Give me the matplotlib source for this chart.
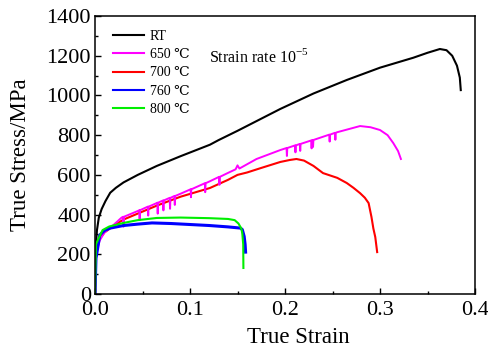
import matplotlib
matplotlib.use("Agg")
import matplotlib.pyplot as plt
import numpy as np
from matplotlib.ticker import MultipleLocator, FormatStrFormatter

# ---- data ----
rt_x = [0, 0.0005, 0.001, 0.002, 0.004, 0.007, 0.011, 0.016, 0.022, 0.03, 0.045, 0.065, 0.09, 0.121,
        0.13, 0.15, 0.195, 0.23, 0.265, 0.3, 0.335, 0.35, 0.363, 0.37, 0.376, 0.381, 0.384, 0.385]
rt_y = [0, 150, 250, 320, 385, 428, 468, 510, 535, 562, 600, 645, 694, 752,
        775, 822, 932, 1010, 1078, 1140, 1190, 1215, 1234, 1228, 1200, 1150, 1090, 1027]

# 650 C base curve and its serrations (downward spikes)
m650_x = [0, 0.001, 0.002, 0.005, 0.01, 0.02, 0.028, 0.045, 0.065, 0.09, 0.121, 0.14, 0.148, 0.15,
          0.152, 0.17, 0.195, 0.229, 0.255, 0.279, 0.29, 0.3, 0.308, 0.314, 0.319, 0.322]
m650_y = [0, 180, 220, 270, 310, 350, 385, 418, 458, 505, 568, 610, 628, 648,
          632, 680, 725, 775, 815, 846, 840, 826, 800, 760, 720, 680]
spike_x = [0.030, 0.047, 0.056, 0.066, 0.072, 0.079, 0.084, 0.101, 0.116, 0.131,
           0.202, 0.211, 0.216, 0.228, 0.2295, 0.247, 0.253]
spike_depth = [50, 50, 45, 55, 50, 55, 45, 40, 45, 40,
               40, 35, 35, 40, 35, 35, 35]

r700_x = [0, 0.001, 0.002, 0.005, 0.01, 0.02, 0.03, 0.045, 0.065, 0.09, 0.121, 0.14, 0.15, 0.16, 0.175,
          0.195, 0.205, 0.212, 0.22, 0.23, 0.24, 0.255, 0.265, 0.272, 0.279, 0.284, 0.288, 0.291, 0.293,
          0.295, 0.297]
r700_y = [0, 190, 230, 280, 310, 345, 375, 405, 445, 490, 534, 575, 600, 612, 635,
          665, 675, 680, 672, 645, 609, 585, 559, 535, 508, 485, 458, 388, 330,
          287, 211]

b760_x = [0, 0.001, 0.003, 0.005, 0.01, 0.016, 0.03, 0.045, 0.06, 0.08, 0.1, 0.12, 0.14, 0.153, 0.155,
          0.157, 0.158, 0.1585]
b760_y = [0, 180, 237, 297, 320, 332, 345, 352, 358, 355, 350, 345, 338, 332, 325,
          290, 250, 211]

g800_x = [0, 0.0005, 0.001, 0.003, 0.008, 0.015, 0.03, 0.045, 0.065, 0.09, 0.12, 0.14, 0.147, 0.151,
          0.154, 0.155, 0.156, 0.1562]
g800_y = [0, 150, 250, 272, 322, 340, 358, 372, 383, 385, 382, 378, 372, 355,
          330, 307, 250, 131]

labels = ["RT", "650 ℃", "700 ℃", "760 ℃", "800 ℃"]
colors = ["black", "#ff00ff", "#ff0000", "#0000ff", "#00ee00"]

# insert serration spikes into the 650 C curve
px, py = list(m650_x), list(m650_y)
for sx, sd in zip(spike_x, spike_depth):
    base = float(np.interp(sx, m650_x, m650_y))
    px += [sx - 0.0004, sx, sx + 0.0004]
    py += [base, base - sd, base]
order = np.argsort(px, kind="stable")
m650_full_x = np.array(px)[order]
m650_full_y = np.array(py)[order]

serif = ["Liberation Serif", "DejaVu Serif"]
plt.rcParams["font.family"] = serif
plt.rcParams["mathtext.fontset"] = "custom"
plt.rcParams["mathtext.rm"] = "Liberation Serif"

fig = plt.figure(figsize=(4.89, 3.49), dpi=100)
ax = fig.add_axes([0.1943, 0.1576, 0.7771, 0.7964])

l_rt, = ax.plot(rt_x, rt_y, color=colors[0], lw=1.5, label=labels[0])
l_700, = ax.plot(r700_x, r700_y, color=colors[2], lw=1.5, label=labels[2])
l_650, = ax.plot(m650_full_x, m650_full_y, color=colors[1], lw=1.4, label=labels[1])
l_760, = ax.plot(b760_x, b760_y, color=colors[3], lw=2.2, label=labels[3])
l_800, = ax.plot(g800_x, g800_y, color=colors[4], lw=1.5, label=labels[4])

ax.set_xlim(0, 0.4)
ax.set_ylim(0, 1400)
ax.xaxis.set_major_locator(MultipleLocator(0.1))
ax.xaxis.set_minor_locator(MultipleLocator(0.05))
ax.yaxis.set_major_locator(MultipleLocator(200))
ax.yaxis.set_minor_locator(MultipleLocator(100))
ax.tick_params(which="both", direction="in", top=False, right=False, width=1)
ax.tick_params(which="major", length=4, labelsize=16)
ax.tick_params(axis="x", which="major", pad=5)
ax.tick_params(axis="y", which="major", pad=3)
ax.tick_params(which="minor", length=2.5)
ax.xaxis.set_major_formatter(FormatStrFormatter("%.1f"))
for s in ax.spines.values():
    s.set_linewidth(1.1)

ax.set_xlabel("True Strain", fontsize=16.5, va="center")
ax.set_ylabel("True Stress/MPa", fontsize=16.5, va="center")
ax.xaxis.set_label_coords(0.535, -0.158)
ax.yaxis.set_label_coords(-0.197, 0.5)

leg = ax.legend(handles=[l_rt, l_650, l_700, l_760, l_800], loc="upper left",
                bbox_to_anchor=(0.015, 0.995), frameon=False, fontsize=10,
                handlelength=2.2, handletextpad=0.45, labelspacing=0.38)
for line in leg.get_lines():
    line.set_linewidth(1.5)

ax.text(0.3, 0.835, r"Strain rate 10$^{-5}$", transform=ax.transAxes, fontsize=11.5,
        va="baseline")

fig.savefig("out.png", dpi=100)
